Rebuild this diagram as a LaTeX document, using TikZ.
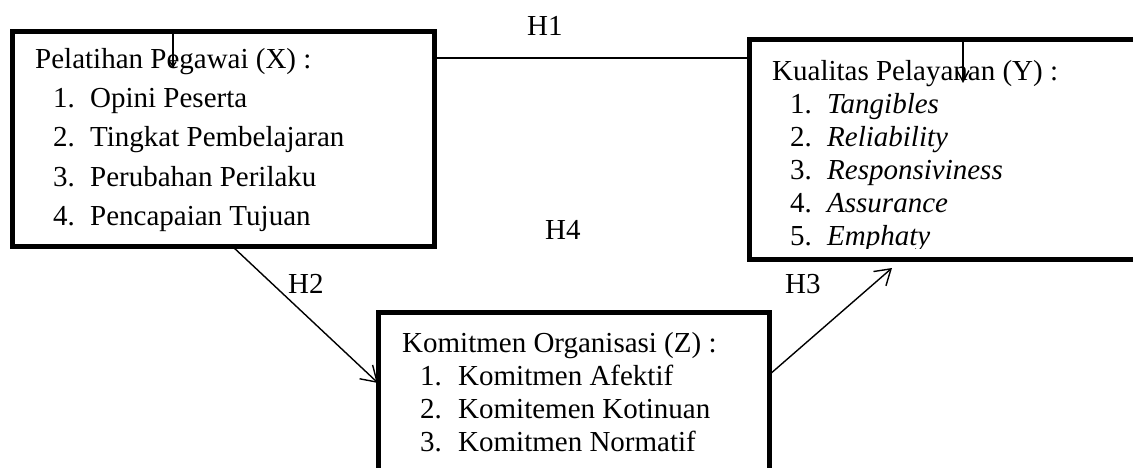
\documentclass[tikz,border=0pt]{standalone}
\usepackage{fontspec}
\setmainfont{Liberation Serif}
\usetikzlibrary{arrows.meta}
\tikzset{
  varbox/.style={draw, line width=5pt, outer sep=0pt, inner sep=0pt, anchor=north west},
  lbl/.style={inner sep=0pt, anchor=base west, font=\fontsize{29}{35}\selectfont},
  link/.style={line width=1.4pt},
  hyp/.style={link, -{Straight Barb[length=15pt,width=19pt]}},
}
\begin{document}
\begin{tikzpicture}[x=1pt,y=-1pt]
  \useasboundingbox (0,0) rectangle (1133,468);
  \clip (0,0) rectangle (1133,468);
  %BOXES
  \node[varbox, minimum width=422pt, minimum height=214pt] (X) at (12,32) {};
  \node[varbox, minimum width=420pt, minimum height=219pt] (Y) at (749,40) {};
  \node[varbox, minimum width=391pt, minimum height=200pt] (Z) at (378,312) {};

  %X
  \node[lbl] (Xt) at (35,69) {Pelatihan Pegawai (X) :};
  \foreach \n/\itemtext in {1/Opini Peserta,2/Tingkat Pembelajaran,3/Perubahan Perilaku,4/Pencapaian Tujuan}
    \node[lbl] (X\n) at (53,{69+39*\n}) {\makebox[37pt][l]{\n.}\itemtext};

  %Y
  \node[lbl] (Yt) at (772,81) {Kualitas Pelayanan (Y) :};
  \begin{scope}
    \clip (749,0) rectangle (1133,248);
    \foreach \n/\itemtext in {1/Tangibles,2/Reliability,3/Responsiviness,4/Assurance,5/Emphaty}
      \node[lbl] (Y\n) at (790,{81+32.8*\n}) {\makebox[37pt][l]{\n.}\textit{\itemtext}};
  \end{scope}

  %Z
  \node[lbl] (Zt) at (402,352) {Komitmen Organisasi (Z) :};
  \foreach \n/\itemtext in {1/Komitmen Afektif,2/Komitemen Kotinuan,3/Komitmen Normatif}
    \node[lbl] (Z\n) at (420,{352+33*\n}) {\makebox[38pt][l]{\n.}\itemtext};

  %CONNECTORS
  \draw[link] ([yshift=-26pt]X.north east) -- ([yshift=-18pt]Y.north west);
  \draw[hyp] ([xshift=220pt]X.south west) -- ([yshift=-71pt]Z.north west);
  \draw[hyp] ([yshift=-63pt]Z.north east) -- ([shift={(143pt,-9pt)}]Y.south west);

  % stray arrows inside the boxes
  \draw[link, -{Straight Barb[length=5pt,width=6pt]}] ([xshift=161pt]X.north west) -- ++(0pt,-36pt);
  \draw[link, -{Straight Barb[length=11pt,width=12pt]}] ([xshift=214pt]Y.north west) -- ++(0pt,-43pt);

  %LABELS
  \node[lbl] (H1) at (527,36) {H1};
  \node[lbl] (H2) at (288,293) {H2};
  \node[lbl] (H3) at (785,293) {H3};
  \node[lbl] (H4) at (545,239) {H4};
\end{tikzpicture}
\end{document}
